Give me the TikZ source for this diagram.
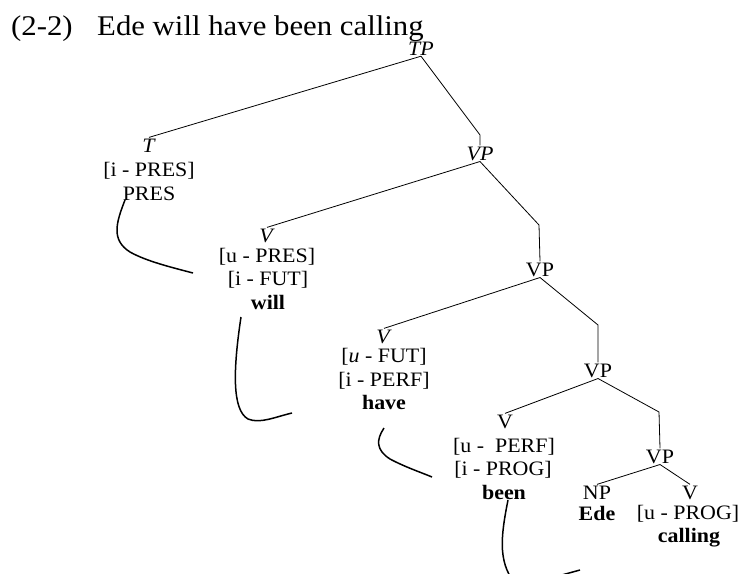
\documentclass[tikz,border=0pt]{standalone}
\usepackage{fontspec}
\setmainfont{Liberation Serif}[FakeStretch=1.07]
\newfontfamily\titlefont{Liberation Serif}[FakeStretch=1.08]
\usepackage{tikz}
\tikzset{cat/.style={anchor=base,inner sep=1pt,font=\fontsize{20.5}{23.5}\selectfont}}
\tikzset{feat/.style={cat}}
\tikzset{lex/.style={cat,font=\fontsize{20.5}{23.5}\selectfont\bfseries}}
\tikzset{branch/.style={line width=0.8pt}}
\tikzset{move/.style={line width=1.5pt}}

\begin{document}
\begin{tikzpicture}[x=1pt,y=-1pt]
\useasboundingbox (0,0) rectangle (743,573);
\node[anchor=base west,inner sep=0pt,font=\titlefont\fontsize{28.5}{30}\selectfont] (num) at (11,35) {(2-2)};
\node[anchor=base west,inner sep=0pt,font=\titlefont\fontsize{28.5}{30}\selectfont] (title) at (97,35) {Ede will have been calling};
% categories
\node[cat] (tp) at (421,55) {\textit{TP}};
\node[cat] (t) at (149,152) {\textit{T}};
\node[feat] (tf) at (149,176) {[i - PRES]};
\node[cat] (tw) at (149,200) {PRES};
\node[cat] (vp1) at (480,160) {\textit{VP}};
\node[cat] (vwill) at (267,242) {\textit{V}};
\node[feat] (vwillf1) at (267,262) {[u - PRES]};
\node[feat] (vwillf2) at (268,285.5) {[i - FUT]};
\node[lex] (will) at (268,309) {will};
\node[cat] (vp2) at (540,276) {VP};
\node[cat] (vhave) at (384,343) {\textit{V}};
\node[feat] (vhavef1) at (384,362) {[\textit{u} - FUT]};
\node[feat] (vhavef2) at (384,386) {[i - PERF]};
\node[lex] (have) at (384,409.5) {have};
\node[cat] (vp3) at (598,377) {VP};
\node[cat] (vbeen) at (505,428) {V};
\node[feat] (vbeenf1) at (504,452) {[u - \ PERF]};
\node[feat] (vbeenf2) at (503,475.5) {[i - PROG]};
\node[lex] (been) at (504,499) {been};
\node[cat] (vp4) at (660,463) {VP};
\node[cat] (np) at (597,499) {NP};
\node[lex] (ede) at (597,520) {Ede};
\node[cat] (vcall) at (690,499) {V};
\node[feat] (vcallf) at (688,519) {[u - PROG]};
\node[lex] (calling) at (689,542) {calling};
% elbows
\coordinate (e1) at (480,135);
\coordinate (e2) at (539,225);
\coordinate (e3) at (598,325);
\coordinate (e4) at (659,412);
% branches
\draw[branch] (tp.south) -- (t.north);
\draw[branch] (tp.south) -- (e1) -- (vp1.north);
\draw[branch] (vp1.south) -- (vwill.north);
\draw[branch] (vp1.south) -- (e2) -- (vp2.north);
\draw[branch] (vp2.south) -- (vhave.north);
\draw[branch] (vp2.south) -- (e3) -- (vp3.north);
\draw[branch] (vp3.south) -- (vbeen.north);
\draw[branch] (vp3.south) -- (e4) -- (vp4.north);
\draw[branch] (vp4.south) -- (np.north);
\draw[branch] (vp4.south) -- (vcall.north);
% movement
\coordinate (m1a) at (125,200);
\coordinate (m1b) at (193,273);
\coordinate (m2a) at (241,317);
\coordinate (m2b) at (292,413);
\coordinate (m3a) at (384,428);
\coordinate (m3b) at (432,477);
\coordinate (m4a) at (508,500);
\coordinate (m4b) at (580,570);
\draw[move] (m1a) .. controls (116,223) and (111,240) .. (130,252) .. controls (146,261) and (170,267) .. (m1b);
\draw[move] (m2a) .. controls (233,370) and (232,410) .. (248,419) .. controls (260,424) and (275,417) .. (m2b);
\draw[move] (m3a) .. controls (376,440) and (376,450) .. (390,459) .. controls (405,467) and (420,472) .. (m3b);
\draw[move] (m4a) .. controls (500,540) and (498,565) .. (518,587) -- (m4b);
\end{tikzpicture}
\end{document}
